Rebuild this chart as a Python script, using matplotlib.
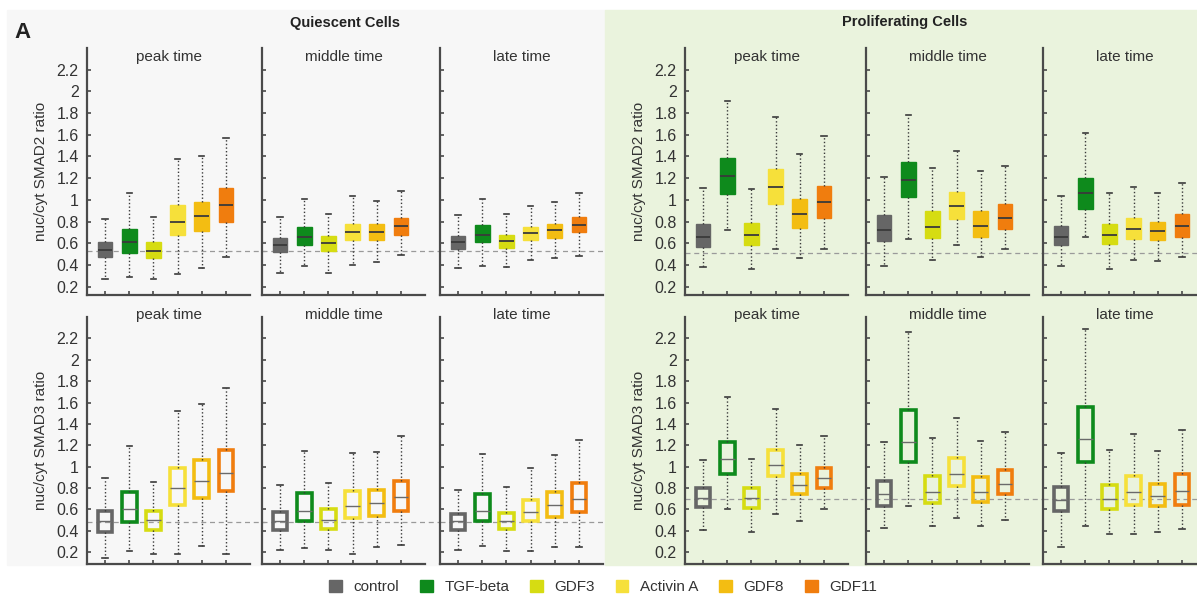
import numpy as np
import matplotlib.pyplot as plt
from matplotlib.patches import Patch, Rectangle

plt.rcParams['font.family'] = ['Liberation Sans', 'DejaVu Sans']

treatments = ['control', 'TGF-beta', 'GDF3', 'Activin A', 'GDF8', 'GDF11']
colors = ['#666666', '#0e8a1c', '#d6dc12', '#f6e03a', '#f3bd12', '#f07d0e']
times = ['peak time', 'middle time', 'late time']

# each row: whislo, q1, median, q3, whishi  (one row per treatment)
smad2_quiescent_peak = [
    [0.27, 0.47, 0.54, 0.61, 0.82],
    [0.29, 0.51, 0.61, 0.73, 1.06],
    [0.27, 0.46, 0.53, 0.61, 0.84],
    [0.32, 0.68, 0.80, 0.95, 1.38],
    [0.37, 0.71, 0.85, 0.98, 1.40],
    [0.47, 0.80, 0.95, 1.11, 1.57],
]
smad2_quiescent_middle = [
    [0.33, 0.52, 0.58, 0.65, 0.84],
    [0.39, 0.58, 0.66, 0.75, 1.01],
    [0.33, 0.53, 0.60, 0.67, 0.87],
    [0.40, 0.63, 0.70, 0.78, 1.04],
    [0.43, 0.63, 0.70, 0.78, 0.99],
    [0.49, 0.68, 0.76, 0.83, 1.08],
]
smad2_quiescent_late = [
    [0.37, 0.55, 0.61, 0.67, 0.86],
    [0.39, 0.61, 0.68, 0.77, 1.01],
    [0.38, 0.56, 0.62, 0.68, 0.87],
    [0.45, 0.63, 0.69, 0.75, 0.94],
    [0.46, 0.65, 0.72, 0.78, 0.98],
    [0.48, 0.70, 0.77, 0.84, 1.06],
]
smad2_proliferating_peak = [
    [0.38, 0.57, 0.66, 0.78, 1.11],
    [0.72, 1.05, 1.22, 1.39, 1.91],
    [0.36, 0.58, 0.68, 0.79, 1.10],
    [0.55, 0.96, 1.12, 1.28, 1.76],
    [0.46, 0.74, 0.87, 1.01, 1.42],
    [0.55, 0.83, 0.98, 1.13, 1.59],
]
smad2_proliferating_middle = [
    [0.39, 0.62, 0.72, 0.86, 1.21],
    [0.64, 1.03, 1.18, 1.35, 1.78],
    [0.45, 0.65, 0.75, 0.90, 1.29],
    [0.58, 0.82, 0.94, 1.07, 1.45],
    [0.47, 0.66, 0.76, 0.90, 1.27],
    [0.55, 0.73, 0.83, 0.96, 1.31],
]
smad2_proliferating_late = [
    [0.39, 0.58, 0.66, 0.76, 1.04],
    [0.66, 0.92, 1.06, 1.20, 1.62],
    [0.36, 0.59, 0.68, 0.78, 1.06],
    [0.45, 0.64, 0.73, 0.83, 1.12],
    [0.44, 0.63, 0.71, 0.80, 1.06],
    [0.47, 0.66, 0.76, 0.87, 1.16],
]
smad3_quiescent_peak = [
    [0.15, 0.39, 0.49, 0.59, 0.89],
    [0.21, 0.48, 0.60, 0.76, 1.19],
    [0.18, 0.41, 0.50, 0.59, 0.86],
    [0.18, 0.64, 0.80, 0.99, 1.52],
    [0.26, 0.71, 0.87, 1.06, 1.59],
    [0.18, 0.77, 0.94, 1.16, 1.74],
]
smad3_quiescent_middle = [
    [0.22, 0.41, 0.49, 0.58, 0.83],
    [0.24, 0.49, 0.59, 0.75, 1.15],
    [0.22, 0.42, 0.50, 0.60, 0.85],
    [0.18, 0.52, 0.63, 0.77, 1.13],
    [0.25, 0.54, 0.66, 0.78, 1.14],
    [0.27, 0.59, 0.72, 0.87, 1.29],
]
smad3_quiescent_late = [
    [0.22, 0.41, 0.49, 0.56, 0.78],
    [0.26, 0.49, 0.59, 0.74, 1.12],
    [0.21, 0.42, 0.49, 0.57, 0.81],
    [0.21, 0.49, 0.58, 0.69, 0.99],
    [0.25, 0.53, 0.64, 0.76, 1.11],
    [0.25, 0.58, 0.70, 0.85, 1.25],
]
smad3_proliferating_peak = [
    [0.41, 0.62, 0.71, 0.80, 1.06],
    [0.60, 0.93, 1.07, 1.23, 1.65],
    [0.39, 0.61, 0.71, 0.80, 1.07],
    [0.56, 0.91, 1.02, 1.16, 1.54],
    [0.49, 0.74, 0.83, 0.93, 1.20],
    [0.60, 0.80, 0.89, 0.99, 1.29],
]
smad3_proliferating_middle = [
    [0.43, 0.63, 0.74, 0.87, 1.23],
    [0.63, 1.04, 1.23, 1.53, 2.26],
    [0.45, 0.66, 0.76, 0.91, 1.27],
    [0.52, 0.82, 0.93, 1.08, 1.46],
    [0.45, 0.67, 0.76, 0.90, 1.24],
    [0.50, 0.74, 0.84, 0.97, 1.32],
]
smad3_proliferating_late = [
    [0.25, 0.59, 0.69, 0.81, 1.13],
    [0.45, 1.04, 1.26, 1.56, 2.29],
    [0.37, 0.60, 0.70, 0.83, 1.16],
    [0.37, 0.64, 0.76, 0.91, 1.31],
    [0.39, 0.63, 0.73, 0.84, 1.15],
    [0.42, 0.64, 0.77, 0.93, 1.34],
]

# baseline levels (dashed lines)
ref_smad2_quiescent = 0.53
ref_smad2_proliferating = 0.51
ref_smad3_quiescent = 0.48
ref_smad3_proliferating = 0.70

yticks = np.arange(0.2, 2.21, 0.2)

W, H = 1197, 594
fig = plt.figure(figsize=(W / 100, H / 100), dpi=100)

# shaded backgrounds for the two cell states
fig.patches.append(Rectangle((7 / W, 1 - 565 / H), (605 - 7) / W, (565 - 10) / H,
                             transform=fig.transFigure, color='#f7f7f7', zorder=-10))
fig.patches.append(Rectangle((605 / W, 1 - 565 / H), (W - 605) / W, (565 - 10) / H,
                             transform=fig.transFigure, color='#eaf3dd', zorder=-10))

lefts = [87, 262, 440, 685, 866, 1043]
panel_w = 163
rows = [
    dict(top=48, bottom=295, ylim=(0.123, 2.4), filled=True, title_y=0.962,
         ylabel='nuc/cyt SMAD2 ratio',
         data=[smad2_quiescent_peak, smad2_quiescent_middle, smad2_quiescent_late,
               smad2_proliferating_peak, smad2_proliferating_middle, smad2_proliferating_late],
         refs=[ref_smad2_quiescent, ref_smad2_proliferating]),
    dict(top=317, bottom=564, ylim=(0.09, 2.4), filled=False, title_y=1.01,
         ylabel='nuc/cyt SMAD3 ratio',
         data=[smad3_quiescent_peak, smad3_quiescent_middle, smad3_quiescent_late,
               smad3_proliferating_peak, smad3_proliferating_middle, smad3_proliferating_late],
         refs=[ref_smad3_quiescent, ref_smad3_proliferating]),
]

for row in rows:
    for i, left in enumerate(lefts):
        ax = fig.add_axes([left / W, 1 - row['bottom'] / H, panel_w / W,
                           (row['bottom'] - row['top']) / H])
        ax.set_facecolor('none')
        stats = []
        for s in row['data'][i]:
            stats.append(dict(whislo=s[0], q1=s[1], med=s[2], q3=s[3], whishi=s[4], fliers=[]))
        if row['filled']:
            medprops = dict(color='#3a3a3a', lw=1.3)
        else:
            medprops = dict(color='#6a6a6a', lw=1.0)
        bp = ax.bxp(stats, positions=range(1, 7), widths=0.6, patch_artist=True,
                    showfliers=False, capwidths=0.22,
                    whiskerprops=dict(color='#3a3a3a', lw=1.0, linestyle=(0, (1, 1.6))),
                    capprops=dict(color='#3a3a3a', lw=1.2),
                    medianprops=medprops)
        for box, c in zip(bp['boxes'], colors):
            if row['filled']:
                box.set_facecolor(c)
                box.set_edgecolor(c)
                box.set_linewidth(1.0)
            else:
                box.set_facecolor('none')
                box.set_edgecolor(c)
                box.set_linewidth(2.6)

        ref = row['refs'][0] if i < 3 else row['refs'][1]
        ax.axhline(ref, xmin=0, xmax=1.0 if i in (2, 5) else 1.09, color='#9a9a9a',
                   lw=0.9, ls=(0, (4, 3)), clip_on=False, zorder=0)

        ax.set_xlim(0.25, 7.0)
        ax.set_ylim(*row['ylim'])
        ax.set_xticks(range(1, 7))
        ax.set_xticklabels([])
        ax.set_yticks(yticks)
        if i in (0, 3):
            ax.set_yticklabels([f'{v:g}' for v in np.round(yticks, 1)], fontsize=11.5,
                               color='#333333')
            ax.set_ylabel(row['ylabel'], fontsize=11, color='#333333', labelpad=6)
        else:
            ax.set_yticklabels([])
        ax.tick_params(direction='in', length=3, width=1.2, color='#4a4a4a', pad=6)
        for side in ('top', 'right'):
            ax.spines[side].set_visible(False)
        for side in ('left', 'bottom'):
            ax.spines[side].set_color('#4a4a4a')
            ax.spines[side].set_linewidth(1.6)
        ax.text(0.5, row['title_y'], times[i % 3], transform=ax.transAxes, ha='center',
                va='center', fontsize=11, color='#333333')

fig.text(345 / W, 1 - 23 / H, 'Quiescent Cells', ha='center', va='center',
         fontsize=10.5, weight='bold', color='#222222')
fig.text(905 / W, 1 - 22 / H, 'Proliferating Cells', ha='center', va='center',
         fontsize=10.5, weight='bold', color='#222222')
fig.text(14 / W, 1 - 33 / H, 'A', ha='left', va='center', fontsize=16, weight='bold',
         color='#222222')

handles = [Patch(facecolor=c, edgecolor=c, label=t) for t, c in zip(treatments, colors)]
fig.legend(handles=handles, loc='center', bbox_to_anchor=(603 / W, 1 - 587 / H), ncol=6,
           frameon=False, fontsize=11, handlelength=0.85, handleheight=0.85,
           handletextpad=0.75, columnspacing=1.35, labelcolor='#333333')

fig.savefig('out.png', dpi=100)
